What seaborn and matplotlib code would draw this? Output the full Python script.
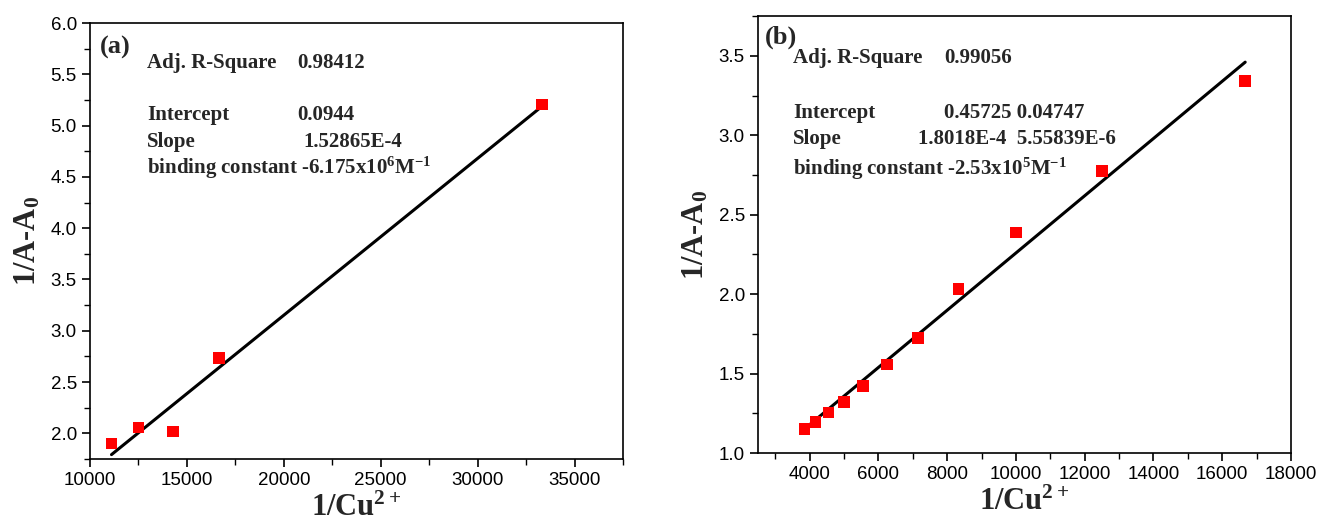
import numpy as np
import pandas as pd
import matplotlib
matplotlib.use("Agg")
import matplotlib.pyplot as plt
import seaborn as sns
from matplotlib.ticker import MultipleLocator

# data
inv_cu_a = [11111, 12500, 14286, 16667, 33333]
resp_a = [1.90, 2.056, 2.02, 2.733, 5.205]
intercept_a = 0.0944
slope_a = 1.52865e-4

inv_cu_b = [3846, 4167, 4545, 5000, 5556, 6250, 7143, 8333, 10000, 12500, 16667]
resp_b = [1.152, 1.194, 1.254, 1.323, 1.423, 1.556, 1.725, 2.031, 2.388, 2.775, 3.341]
intercept_b = 0.45725
slope_b = 1.8018e-4

text_a = ["Adj. R-Square", "0.98412", "Intercept", "0.0944", "Slope", "1.52865E-4",
          r"binding constant -6.175x10$^{6}$M$^{-1}$"]
text_b = ["Adj. R-Square", "0.99056", "Intercept", "0.45725 0.04747", "Slope",
          "1.8018E-4  5.55839E-6", r"binding constant -2.53x10$^{5}$M$^{-1}$"]

sns.set_style("ticks")
plt.rcParams.update({
    "font.family": ["Liberation Sans", "DejaVu Sans"],
    "font.size": 13.5,
    "axes.linewidth": 1.2,
    "xtick.major.width": 1.2,
    "ytick.major.width": 1.2,
    "xtick.minor.width": 1.0,
    "ytick.minor.width": 1.0,
    "xtick.major.size": 6,
    "ytick.major.size": 6,
    "xtick.minor.size": 4,
    "ytick.minor.size": 4,
    "xtick.color": "black",
    "ytick.color": "black",
    "axes.edgecolor": "black",
    "mathtext.fontset": "custom",
    "mathtext.rm": "Liberation Serif:bold",
    "mathtext.it": "Liberation Serif:bold",
    "mathtext.bf": "Liberation Serif:bold",
})
serif = dict(family="Liberation Serif", weight="bold")

fig = plt.figure(figsize=(13.19, 5.27), dpi=100)
ax_a = fig.add_axes([0.0682, 0.129, 0.4041, 0.8273])
ax_b = fig.add_axes([0.5747, 0.1404, 0.4041, 0.829])


def draw_panel(ax, x, y, b0, b1):
    df = pd.DataFrame({"x": x, "y": y})
    df["fit"] = b0 + b1 * df["x"]
    sns.lineplot(data=df, x="x", y="fit", color="black", linewidth=2.2, ax=ax)
    sns.scatterplot(data=df, x="x", y="y", marker="s", color="#FF0000", s=70,
                    edgecolor="none", zorder=3, ax=ax)
    ax.tick_params(which="both", direction="out", top=False, right=False, labelsize=13.5)
    ax.set_xlabel(r"1/Cu$^{2+}$", fontsize=22, fontdict=serif, labelpad=3)
    ax.set_ylabel(r"1/A-A$_0$", fontsize=22, fontdict=serif, labelpad=6)


draw_panel(ax_a, inv_cu_a, resp_a, intercept_a, slope_a)
ax_a.set_xlim(10000, 37500)
ax_a.set_ylim(1.75, 6.0)
ax_a.xaxis.set_major_locator(MultipleLocator(5000))
ax_a.xaxis.set_minor_locator(MultipleLocator(2500))
ax_a.yaxis.set_major_locator(MultipleLocator(0.5))
ax_a.yaxis.set_minor_locator(MultipleLocator(0.25))
ax_a.set_yticks(np.arange(2.0, 6.01, 0.5))

draw_panel(ax_b, inv_cu_b, resp_b, intercept_b, slope_b)
ax_b.set_xlim(2500, 18000)
ax_b.set_ylim(1.0, 3.75)
ax_b.set_xticks(np.arange(4000, 18001, 2000))
ax_b.xaxis.set_minor_locator(MultipleLocator(1000))
ax_b.yaxis.set_major_locator(MultipleLocator(0.5))
ax_b.yaxis.set_minor_locator(MultipleLocator(0.25))

# panel letters and fit statistics
ax_a.text(0.019, 0.945, "(a)", transform=ax_a.transAxes, fontsize=19, va="center", **serif)
ya = [0.897, 0.778, 0.716, 0.654]
ax_a.text(0.107, ya[0], text_a[0], transform=ax_a.transAxes, fontsize=15, **serif)
ax_a.text(0.388, ya[0], text_a[1], transform=ax_a.transAxes, fontsize=15, **serif)
ax_a.text(0.107, ya[1], text_a[2], transform=ax_a.transAxes, fontsize=15, **serif)
ax_a.text(0.388, ya[1], text_a[3], transform=ax_a.transAxes, fontsize=15, **serif)
ax_a.text(0.107, ya[2], text_a[4], transform=ax_a.transAxes, fontsize=15, **serif)
ax_a.text(0.400, ya[2], text_a[5], transform=ax_a.transAxes, fontsize=15, **serif)
ax_a.text(0.107, ya[3], text_a[6], transform=ax_a.transAxes, fontsize=15, **serif)

ax_b.text(0.013, 0.952, "(b)", transform=ax_b.transAxes, fontsize=19, va="center", **serif)
yb = [0.892, 0.767, 0.707, 0.636]
ax_b.text(0.066, yb[0], text_b[0], transform=ax_b.transAxes, fontsize=15, **serif)
ax_b.text(0.349, yb[0], text_b[1], transform=ax_b.transAxes, fontsize=15, **serif)
ax_b.text(0.066, yb[1], text_b[2], transform=ax_b.transAxes, fontsize=15, **serif)
ax_b.text(0.349, yb[1], text_b[3], transform=ax_b.transAxes, fontsize=15, **serif)
ax_b.text(0.066, yb[2], text_b[4], transform=ax_b.transAxes, fontsize=15, **serif)
ax_b.text(0.300, yb[2], text_b[5], transform=ax_b.transAxes, fontsize=15, **serif)
ax_b.text(0.066, yb[3], text_b[6], transform=ax_b.transAxes, fontsize=15, **serif)

fig.savefig("out.png", dpi=100)
